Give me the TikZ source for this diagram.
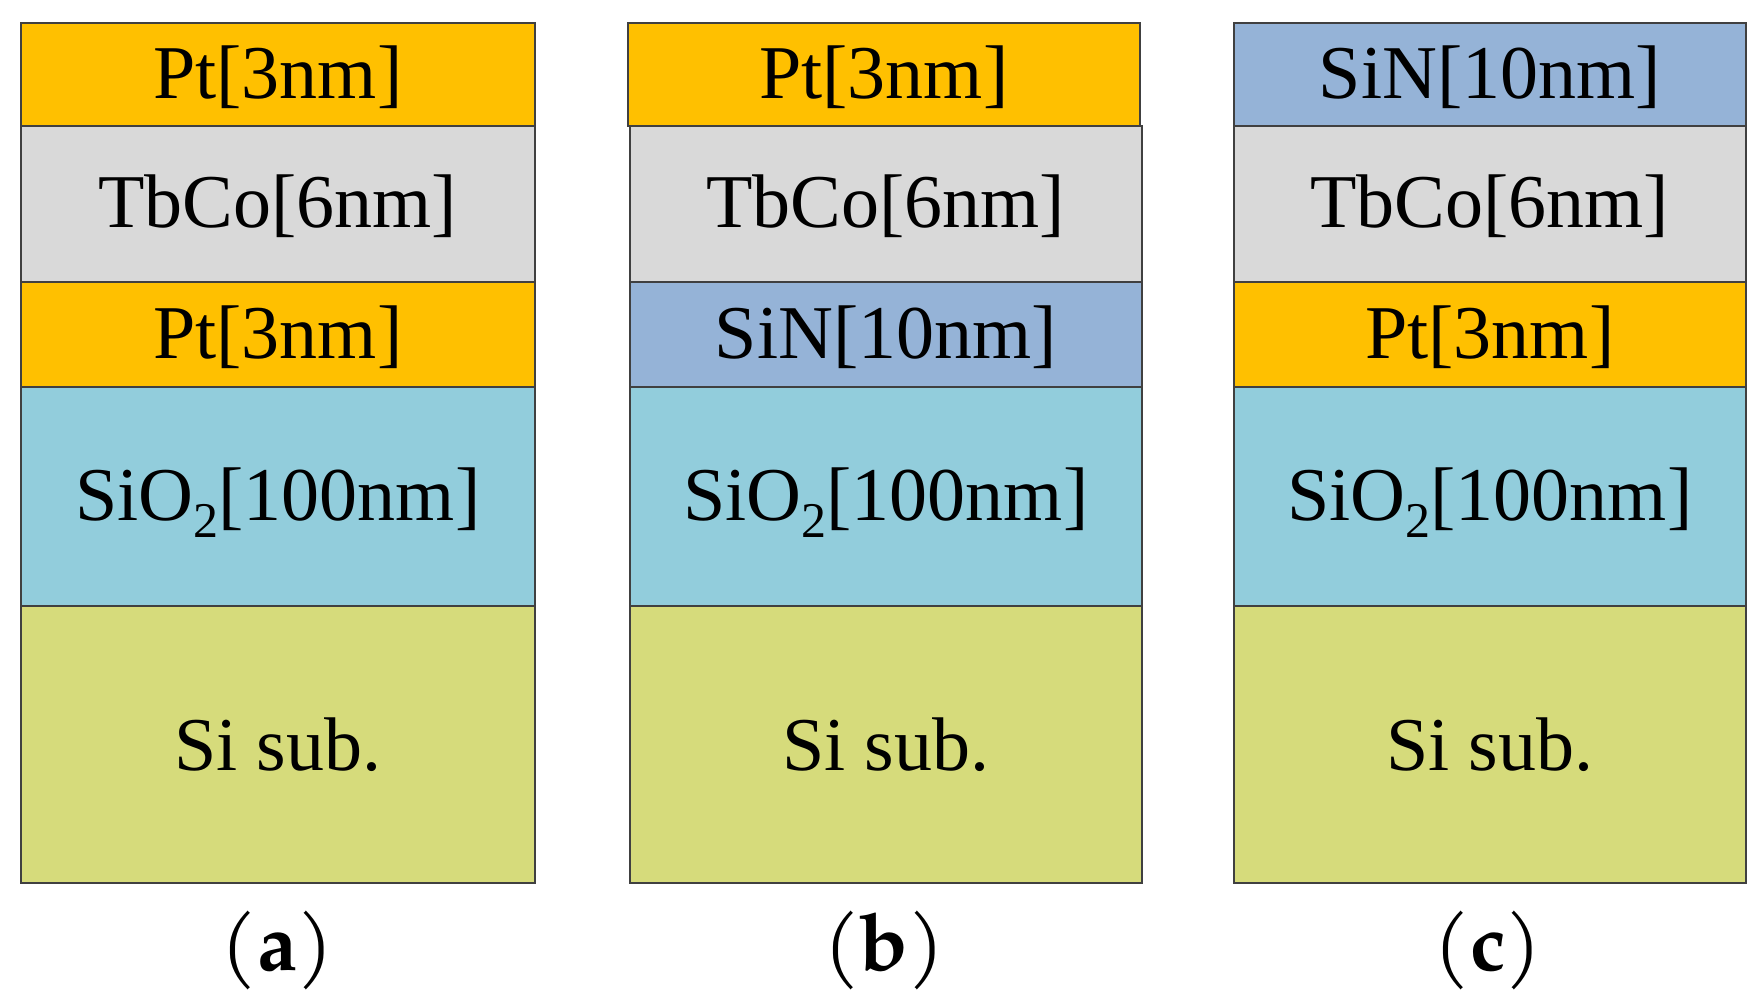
\documentclass[tikz,border=0pt]{standalone}
\usepackage{fontspec}
\setmainfont{Liberation Serif}
\newfontfamily\labfont{TeX Gyre Pagella}
\definecolor{ptc}{HTML}{FFC000}
\definecolor{tbc}{HTML}{D9D9D9}
\definecolor{sinc}{HTML}{95B3D7}
\definecolor{sioc}{HTML}{92CDDC}
\definecolor{sic}{HTML}{D6DB7B}
\definecolor{linec}{HTML}{404040}
\newcommand\mysubtwo{\raisebox{-0.22em}{\fontsize{50}{50}\selectfont 2}}
\begin{document}
\begin{tikzpicture}[x=1pt,y=-1pt,
  layerbox/.style={draw=linec, line width=1.6pt, rectangle, inner sep=0pt,
    anchor=north west, font=\fontsize{76}{76}\selectfont, text=black},
  brk/.style={text height=64pt, text depth=16pt},
  wa/.style={minimum width=514pt},
  wb/.style={minimum width=512pt},
  hpt/.style={minimum height=102.5pt},
  htb/.style={minimum height=156pt},
  hmid/.style={minimum height=105pt},
  hsio/.style={minimum height=219pt},
  hsi/.style={minimum height=277pt},
  panellabel/.style={font=\labfont\fontsize{80}{80}\selectfont, inner sep=0pt}]
\useasboundingbox (0,0) rectangle (1764,1008);
\fill[white] (0,0) rectangle (1764,1008);
% panel (a)
\node[layerbox,brk,wa,hpt,fill=ptc] (a1) at (20,22.5) {Pt[3nm]};
\node[layerbox,brk,wa,htb,fill=tbc] (a2) at (20,125) {TbCo[6nm]};
\node[layerbox,brk,wa,hmid,fill=ptc] (a3) at (20,281) {Pt[3nm]};
\node[layerbox,brk,wa,hsio,fill=sioc] (a4) at (20,386) {SiO\mysubtwo[100nm]};
\node[layerbox,wa,hsi,fill=sic] (a5) at (20,605) {Si sub.};
% panel (b)
\node[layerbox,brk,wb,hpt,fill=ptc] (b1) at (627,22.5) {Pt[3nm]};
\node[layerbox,brk,wb,htb,fill=tbc] (b2) at (629,125) {TbCo[6nm]};
\node[layerbox,brk,wb,hmid,fill=sinc] (b3) at (629,281) {SiN[10nm]};
\node[layerbox,brk,wb,hsio,fill=sioc] (b4) at (629,386) {SiO\mysubtwo[100nm]};
\node[layerbox,wb,hsi,fill=sic] (b5) at (629,605) {Si sub.};
% panel (c)
\node[layerbox,brk,wb,hpt,fill=sinc] (c1) at (1233,22.5) {SiN[10nm]};
\node[layerbox,brk,wb,htb,fill=tbc] (c2) at (1233,125) {TbCo[6nm]};
\node[layerbox,brk,wb,hmid,fill=ptc] (c3) at (1233,281) {Pt[3nm]};
\node[layerbox,brk,wb,hsio,fill=sioc] (c4) at (1233,386) {SiO\mysubtwo[100nm]};
\node[layerbox,wb,hsi,fill=sic] (c5) at (1233,605) {Si sub.};
% labels
\node[panellabel] (la) at (277,950) {(\textbf{a})};
\node[panellabel] (lb) at (884,950) {(\textbf{b})};
\node[panellabel] (lc) at (1488,950) {(\textbf{c})};
\end{tikzpicture}
\end{document}
